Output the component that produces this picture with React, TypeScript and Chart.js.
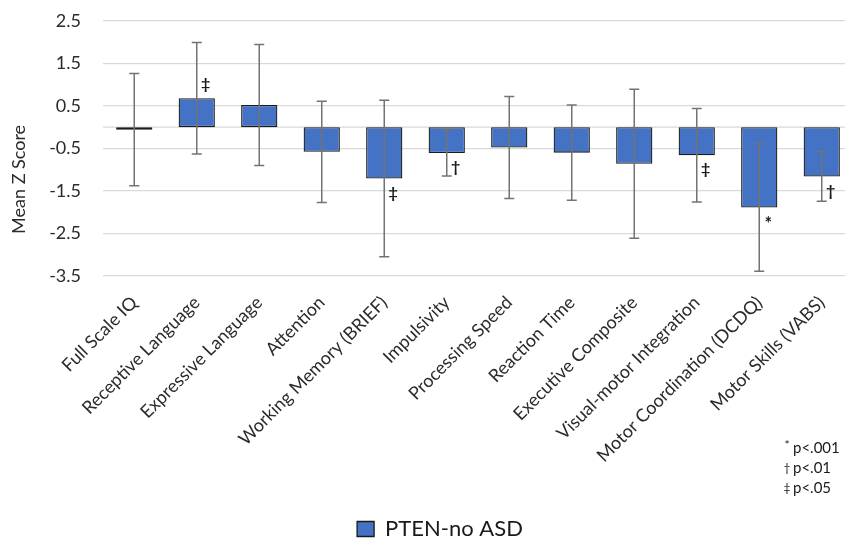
import React, { useEffect, useRef } from 'react';
import { Chart, registerables } from 'chart.js';

Chart.register(...registerables);

const categories = [
  'Full Scale IQ',
  'Receptive Language',
  'Expressive Language',
  'Attention',
  'Working Memory (BRIEF)',
  'Impulsivity',
  'Processing Speed',
  'Reaction Time',
  'Executive Composite',
  'Visual-motor Integration',
  'Motor Coordination (DCDQ)',
  'Motor Skills (VABS)',
];
const meanZ = [-0.06, 0.68, 0.52, -0.58, -1.21, -0.61, -0.48, -0.6, -0.86, -0.66, -1.89, -1.16];
const errorSD = [1.32, 1.31, 1.42, 1.19, 1.84, 0.54, 1.2, 1.12, 1.75, 1.1, 1.5, 0.58];
const sigMarks = ['', '‡', '', '', '‡', '†', '', '', '', '‡', '*', '†'];
const footnoteSymbols = ['*', '†', '‡'];
const footnoteTexts = ['p<.001', 'p<.01', 'p<.05'];
const yMin = -3.5;
const yMax = 2.5;
const yStep = 1;
const seriesLabel = 'PTEN-no ASD';
const yTitle = 'Mean Z Score';

const FONT = 'Lato, sans-serif';
const TEXT = '#2b2b2b';
const GRID = '#d9d9d9';

export default function App() {
  const ref = useRef<HTMLCanvasElement>(null);

  useEffect(() => {
    document.body.style.margin = '0';
    const canvas = ref.current;
    if (!canvas) return;

    const zeroLine = {
      id: 'zeroLine',
      beforeDatasetsDraw(chart: any) {
        const { ctx, chartArea } = chart;
        const y = chart.scales.y.getPixelForValue(0);
        ctx.save();
        ctx.strokeStyle = GRID;
        ctx.lineWidth = 1.3;
        ctx.beginPath();
        ctx.moveTo(chartArea.left, y);
        ctx.lineTo(chartArea.right, y);
        ctx.stroke();
        ctx.restore();
      },
    };

    const errorBars = {
      id: 'errorBars',
      afterDatasetsDraw(chart: any) {
        const { ctx } = chart;
        const ys = chart.scales.y;
        const meta = chart.getDatasetMeta(0);
        ctx.save();
        ctx.strokeStyle = '#737373';
        ctx.lineWidth = 1.5;
        meta.data.forEach((bar: any, i: number) => {
          const x = bar.x;
          const t = ys.getPixelForValue(meanZ[i] + errorSD[i]);
          const b = ys.getPixelForValue(meanZ[i] - errorSD[i]);
          ctx.beginPath();
          ctx.moveTo(x, t);
          ctx.lineTo(x, b);
          ctx.moveTo(x - 5, t);
          ctx.lineTo(x + 5, t);
          ctx.moveTo(x - 5, b);
          ctx.lineTo(x + 5, b);
          ctx.stroke();
        });
        ctx.fillStyle = '#1a1a1a';
        ctx.textAlign = 'center';
        ctx.textBaseline = 'middle';
        meta.data.forEach((bar: any, i: number) => {
          const m = sigMarks[i];
          if (!m) return;
          const end = ys.getPixelForValue(meanZ[i]);
          const dir = meanZ[i] >= 0 ? -1 : 1;
          ctx.font = `bold ${m === '*' ? 18 : 16}px ${FONT}`;
          ctx.fillText(m, bar.x + 9, end + dir * (m === '*' ? 17 : 14));
        });
        ctx.restore();
      },
    };

    const extras = {
      id: 'extras',
      afterDraw(chart: any) {
        const { ctx, chartArea } = chart;
        ctx.save();
        ctx.translate(19, (chartArea.top + chartArea.bottom) / 2 + 31);
        ctx.rotate(-Math.PI / 2);
        ctx.fillStyle = TEXT;
        ctx.font = `18px ${FONT}`;
        ctx.textAlign = 'center';
        ctx.textBaseline = 'middle';
        ctx.fillText(yTitle, 0, 0);
        ctx.restore();
        ctx.save();
        ctx.fillStyle = '#1a1a1a';
        ctx.textBaseline = 'middle';
        footnoteTexts.forEach((txt, i) => {
          const yy = chartArea.bottom + 172 + i * 20;
          ctx.font = `12px ${FONT}`;
          ctx.textAlign = 'center';
          ctx.fillText(footnoteSymbols[i], chartArea.right - 66, yy - (i === 0 ? 3 : 0));
          ctx.font = `15px ${FONT}`;
          ctx.textAlign = 'left';
          ctx.fillText(txt, chartArea.right - 60, yy);
        });
        ctx.restore();
      },
    };

    const chart = new Chart(canvas, {
      type: 'bar',
      data: {
        labels: categories,
        datasets: [
          {
            label: seriesLabel,
            data: meanZ,
            backgroundColor: '#4472C4',
            borderColor: '#1a1a1a',
            borderWidth: 1.3,
            borderSkipped: false,
            barPercentage: 0.58,
            categoryPercentage: 1,
          },
        ],
      },
      options: {
        animation: false,
        responsive: false,
        layout: { padding: { top: 0, left: 0, right: 0, bottom: 0 } },
        plugins: {
          legend: {
            position: 'bottom',
            labels: {
              font: { family: FONT, size: 22 },
              color: '#1a1a1a',
              boxWidth: 17,
              boxHeight: 15,
              padding: 2,
            },
          },
          tooltip: { enabled: false },
        },
        scales: {
          x: {
            grid: { display: false },
            border: { display: false },
            ticks: {
              autoSkip: false,
              maxRotation: 45,
              minRotation: 45,
              color: TEXT,
              font: { family: FONT, size: 18 },
              padding: 8,
            },
            afterFit: (s: any) => {
              s.height = 240;
            },
          },
          y: {
            min: yMin,
            max: yMax,
            ticks: {
              stepSize: yStep,
              color: TEXT,
              font: { family: FONT, size: 18 },
              padding: 22,
              callback: (v: any) => Number(v).toFixed(1),
            },
            grid: { color: GRID, lineWidth: 1.3, drawTicks: false },
            border: { display: false },
            afterFit: (s: any) => {
              s.width = 103;
            },
          },
          y2: {
            position: 'right',
            display: true,
            ticks: { display: false },
            grid: { display: false },
            border: { display: false },
            afterFit: (s: any) => {
              s.width = 27;
            },
          },
        },
      },
      plugins: [zeroLine, errorBars, extras],
    } as any);

    return () => chart.destroy();
  }, []);

  return (
    <div style={{ position: 'absolute', left: 0, top: 0, width: 845, height: 538, overflow: 'hidden', background: '#fff' }}>
      <canvas ref={ref} width={880} height={562} style={{ width: 880, height: 562, display: 'block', marginTop: -12 }} />
    </div>
  );
}
